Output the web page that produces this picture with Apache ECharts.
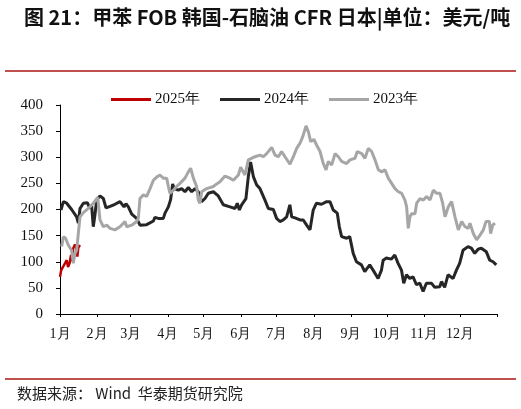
<!DOCTYPE html>
<html>
<head>
<meta charset="utf-8">
<script src="https://cdn.jsdelivr.net/npm/echarts@6/dist/echarts.min.js"></script>
<style>
html,body{margin:0;padding:0;background:#fff;}
#c{width:521px;height:409px;}
</style>
</head>
<body>
<div id="c"></div>
<script>
// month start days (day of year) and labels
var monthStarts = [0,31,59,90,120,151,181,212,243,273,304,334,365];
var monthLabels = ['1月','2月','3月','4月','5月','6月','7月','8月','9月','10月','11月','12月'];
var seriesNames = ['2025年','2024年','2023年'];

// [day of year, USD/t]
var data2025 = [[0,71],[1,84],[2.5,90],[4,92],[5.6,103],[6.7,90],[8,97],[9.2,113],[9.7,101],[11.1,126],[12.5,133],[13.5,128],[14.5,110],[15.3,127],[16.7,132]];

var data2024 = [[0.8,199],[2.8,215],[5.6,212],[9.7,200],[13.9,186],[15.3,174],[16.7,202],[19.5,212],[22.8,213],[25,202],[26.4,208],[27.8,167],[29.2,190],[30.6,218],[33.4,226],[36.2,221],[38.4,203],[41.8,206],[45.9,210],[50.1,215],[53.5,205],[55.1,211],[57.1,205],[59.9,191],[64,183],[66.8,170],[72.4,171],[78,178],[79.3,185],[82.1,183],[86.3,183],[87.7,193],[90.5,205],[92.4,219],[94.1,249],[95.2,240],[98.8,237],[101.6,240],[104.4,234],[107.2,242],[110,234],[112.8,240],[115.5,234],[118.3,215],[121.1,221],[123.9,231],[128.1,234],[132.2,226],[136.4,209],[142,205],[146.2,202],[148.1,212],[149.8,199],[151.7,209],[155.3,221],[157.3,263],[159.2,291],[161.5,263],[164.3,247],[167,240],[171.2,218],[174,202],[178.2,200],[180.9,183],[183.7,177],[186.5,180],[189.3,186],[192,209],[193.5,186],[196.3,184],[200.5,180],[203.2,180],[206,170],[208.8,161],[211.5,199],[214.2,212],[218.4,210],[222.7,215],[225.5,215],[228.2,199],[231.6,193],[233.3,167],[235.2,148],[239.4,145],[242,148],[244.9,116],[247.6,100],[251.8,94],[254.5,81],[258.7,94],[261.5,84],[265.7,68],[268.5,84],[269.9,103],[272.6,107],[276.8,105],[279.6,113],[282.4,97],[285.2,84],[287.1,59],[289.4,75],[292.1,68],[294.9,71],[297.7,56],[300.5,59],[303.3,43],[306,59],[310.2,59],[313,51],[317.2,52],[318.6,62],[321.3,51],[324.1,75],[328.3,68],[331.1,84],[333.8,97],[336.6,122],[340.8,129],[343.6,126],[346.4,116],[349.2,124],[351.9,126],[356.1,119],[358.9,103],[361.7,100],[364.4,94]];

var data2023 = [[1.4,129],[2.8,148],[4.7,145],[6.9,132],[9.7,122],[11.1,97],[12.5,116],[13.9,122],[15.3,154],[16.7,186],[19.5,194],[23.7,202],[27.8,212],[31.5,223],[33.4,180],[36.2,167],[39,170],[41.8,164],[45.9,161],[50.1,167],[54.3,177],[55.7,167],[59.9,170],[64,177],[65.4,183],[66.8,221],[69.6,228],[72.4,225],[75.2,240],[78,256],[80.7,262],[83.5,266],[86.3,260],[89.1,260],[90.5,244],[91.9,231],[94.7,237],[97.4,244],[100.2,250],[104.4,260],[107.2,272],[109.1,279],[111.4,260],[114.1,244],[115.5,218],[116.9,212],[118.3,234],[119.7,237],[122.5,240],[128.1,244],[130.9,249],[133.6,253],[137.8,264],[142,260],[144.8,256],[149,266],[150.9,281],[154.5,266],[157.3,295],[158.7,295],[162.9,301],[167,304],[169.8,301],[172.6,307],[176.8,319],[179.6,304],[182.4,301],[185.1,311],[187.9,301],[192.1,287],[194.9,301],[197.7,317],[200.5,327],[202.7,339],[205.5,360],[207.4,349],[209.4,330],[212.1,334],[214.4,323],[217.2,311],[219.9,288],[222.2,276],[224.1,292],[226.9,285],[229.7,307],[232.5,301],[235.2,292],[239.4,288],[242.2,295],[246.4,298],[248.3,311],[252,307],[254.7,298],[257.5,317],[260.3,311],[263.1,295],[265.9,276],[268.7,272],[271.4,276],[274.2,260],[277,250],[279.8,240],[282.6,234],[285.4,231],[288.1,218],[289.5,205],[290.9,164],[292.3,186],[293.7,192],[296.5,192],[297.9,212],[300.7,221],[303.5,218],[306.2,225],[309,218],[311.8,237],[314.6,231],[317.4,231],[319.6,212],[321.6,186],[324.3,205],[327.1,215],[329.9,186],[332.7,161],[335.5,177],[338.3,167],[341,164],[342.4,174],[345.2,154],[348,142],[350.8,151],[353.6,161],[355.8,177],[358.6,177],[359.7,154],[361.4,170],[363.3,174]];

var chart = echarts.init(document.getElementById('c'), null, {renderer:'canvas'});
var serif = '"Liberation Serif","Times New Roman",serif';
var cjk = '"Noto Sans CJK SC","Noto Sans",sans-serif';

chart.setOption({
  animation:false,
  backgroundColor:'#ffffff',
  title:{
    text:'图 21：甲苯 FOB 韩国-石脑油 CFR 日本|单位：美元/吨',
    left:19, top:2,
    textStyle:{fontFamily:cjk,fontSize:20,fontWeight:'bold',color:'#111'}
  },
  graphic:[
    {type:'line',shape:{x1:5,y1:71,x2:516,y2:71},style:{stroke:'#c0504d',lineWidth:2}},
    {type:'line',shape:{x1:5,y1:379,x2:516,y2:379},style:{stroke:'#c0504d',lineWidth:2}},
    {type:'text',left:17,top:386,style:{text:'数据来源： Wind  华泰期货研究院',font:'15px '+cjk,fill:'#222'}}
  ],
  legend:{
    top:87, left:106,
    itemWidth:40, itemHeight:3, itemGap:20,
    icon:'rect',
    textStyle:{fontFamily:serif,fontSize:15,color:'#111',padding:[0,0,0,-1]},
    data:seriesNames
  },
  grid:{left:60,right:24,top:105,bottom:95,containLabel:false},
  xAxis:{
    type:'value', min:0, max:365,
    axisLine:{lineStyle:{color:'#000',width:1}},
    splitLine:{show:false},
    axisTick:{show:true,length:3,inside:false,customValues:monthStarts,lineStyle:{color:'#000'}},
    axisLabel:{
      customValues:monthStarts.slice(0,12),
      margin:13,
      fontFamily:serif,fontSize:14,color:'#111',
      formatter:function(v){var i=monthStarts.indexOf(v);return i>=0&&i<12?monthLabels[i]:'';}
    }
  },
  yAxis:{
    type:'value', min:0, max:400, interval:50,
    axisLine:{show:true,lineStyle:{color:'#000',width:1}},
    axisTick:{show:true,length:4,lineStyle:{color:'#000'}},
    splitLine:{show:false},
    axisLabel:{margin:17,fontFamily:serif,fontSize:15,color:'#111'}
  },
  series:[
    {name:seriesNames[0],type:'line',data:data2025,showSymbol:false,symbol:'none',lineStyle:{color:'#c00000',width:2.5},itemStyle:{color:'#c00000'}},
    {name:seriesNames[1],type:'line',data:data2024,showSymbol:false,symbol:'none',lineStyle:{color:'#262626',width:3},itemStyle:{color:'#262626'}},
    {name:seriesNames[2],type:'line',data:data2023,showSymbol:false,symbol:'none',lineStyle:{color:'#a6a6a6',width:3},itemStyle:{color:'#a6a6a6'}}
  ]
});
</script>
</body>
</html>
